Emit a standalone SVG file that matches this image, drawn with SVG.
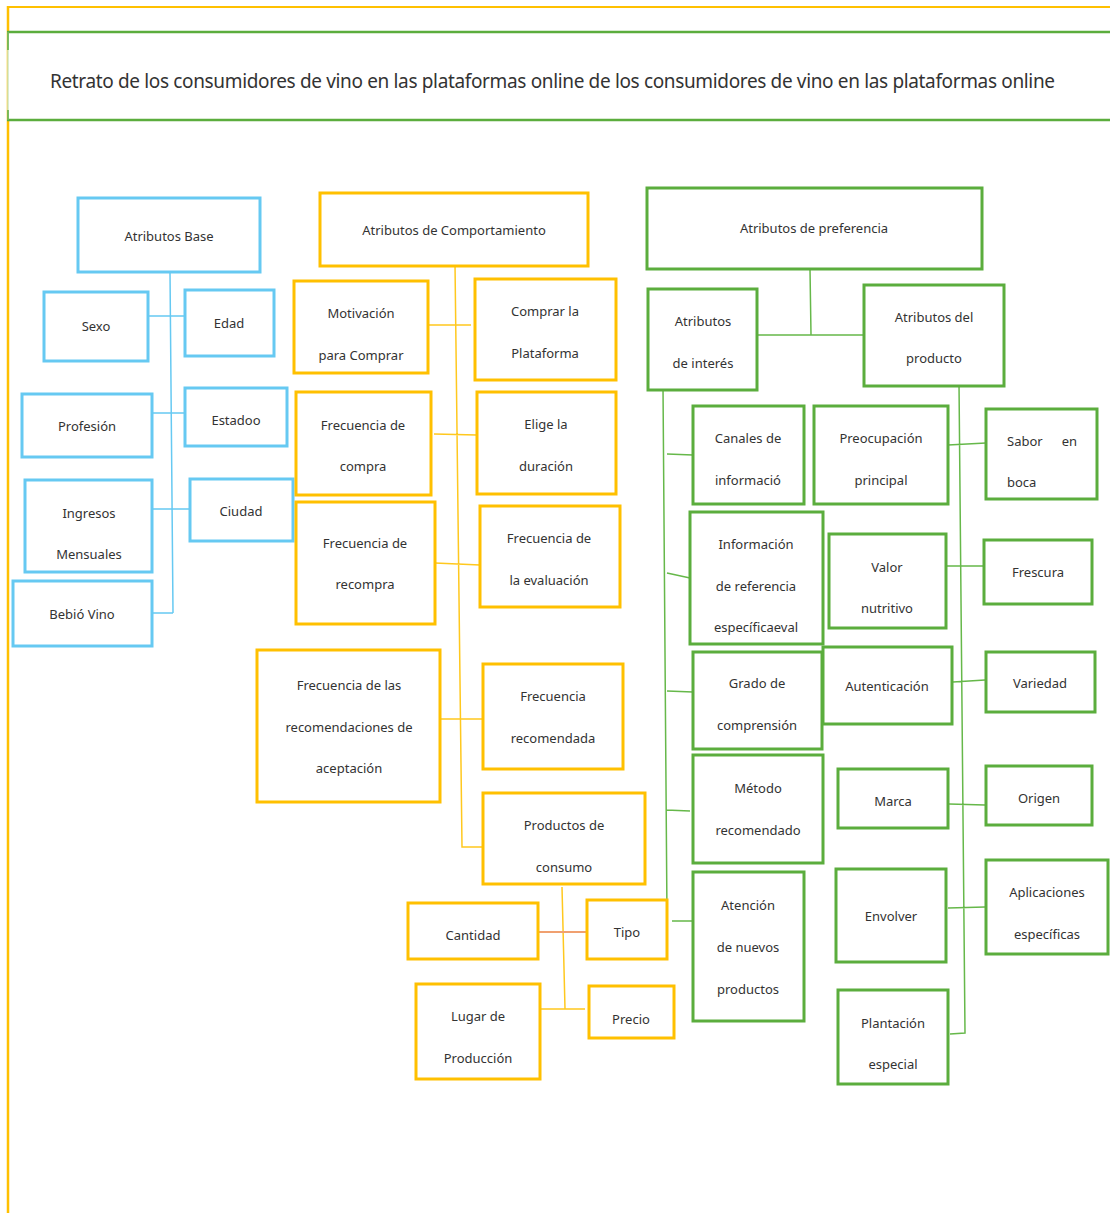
<svg xmlns="http://www.w3.org/2000/svg" width="1110" height="1213" viewBox="0 0 1110 1213">
<style>
.nb{fill:#fff;stroke:#66C9F2;stroke-width:3}
.ny{fill:#fff;stroke:#FFC000;stroke-width:3}
.ng{fill:#fff;stroke:#5BAD3D;stroke-width:3}
.t{font-family:"Noto Sans","Liberation Sans",sans-serif;font-size:13px;fill:#333;text-anchor:middle}
.tl{text-anchor:start}
.te{text-anchor:end}
.cb{fill:none;stroke:#66C9F2;stroke-width:1.5}
.cy{fill:none;stroke:#FFC81E;stroke-width:1.5}
.cg{fill:none;stroke:#66B84A;stroke-width:1.5}
.co{fill:none;stroke:#F0A070;stroke-width:2}
</style>
<rect width="1110" height="1213" fill="#fff"/>
<g id="frame">
<line x1="8" y1="7" x2="1110" y2="7" stroke="#FFC000" stroke-width="2"/>
<line x1="8" y1="6" x2="8" y2="1213" stroke="#FFC000" stroke-width="2.5"/>
</g>
<g id="title">
<rect x="8" y="32" width="1110" height="88" fill="#fff" stroke="none"/>
<line x1="7" y1="32" x2="1110" y2="32" stroke="#5BAD3D" stroke-width="2.5"/>
<line x1="7" y1="120" x2="1110" y2="120" stroke="#5BAD3D" stroke-width="2.5"/>
<line x1="8" y1="32" x2="8" y2="120" stroke="#CFE6C2" stroke-width="1.5"/>
<line x1="8" y1="32" x2="8" y2="50" stroke="#5BAD3D" stroke-width="1.5"/>
<line x1="8" y1="110" x2="8" y2="120" stroke="#5BAD3D" stroke-width="1.5"/>
<text x="50" y="88" class="t tl" style="font-size:19px" textLength="1005">Retrato de los consumidores de vino en las plataformas online de los consumidores de vino en las plataformas online</text>
</g>
<g id="connectors">
<path class="cb" d="M170 272 L173 613 M148 316 H185 M152 413 H185 M152 509 H190 M152 613 H173"/>
<path class="cy" d="M455 264 L462 847 H483 M428 325 H471 M434 434 L477 435 M435 563 L480 565 M440 719 H483 M562 887 L565 1009 M540 1009 H585"/>
<path class="co" d="M538 932 H587"/>
<path class="cg" d="M810 269 L811 335 M757 335 H864 M663 387 L667 918 M667 454 L693 455 M667 573 L690 578 M667 691 L693 692 M666 810 L690 811 M672 921 H693 M959 383 L965 1033 L950 1034 M948 445 L986 443 M946 566 H984 M953 682 L985 680 M949 804 L985 805 M948 908 L985 907"/>
</g>
<g id="n-atributos-base"><rect class="nb" x="78" y="198" width="182" height="74"/><text class="t" x="169" y="240.5">Atributos Base</text></g>
<g id="n-sexo"><rect class="nb" x="44" y="292" width="104" height="69"/><text class="t" x="96" y="330.5">Sexo</text></g>
<g id="n-edad"><rect class="nb" x="185" y="290" width="89" height="66"/><text class="t" x="229" y="327.5">Edad</text></g>
<g id="n-profesion"><rect class="nb" x="22" y="394" width="130" height="63"/><text class="t" x="87" y="430.5">Profesión</text></g>
<g id="n-estadoo"><rect class="nb" x="185" y="388" width="102" height="58"/><text class="t" x="236" y="424.5">Estadoo</text></g>
<g id="n-ingresos"><rect class="nb" x="25" y="480" width="127" height="92"/><text class="t" x="89" y="517.5">Ingresos</text><text class="t" x="89" y="558.5">Mensuales</text></g>
<g id="n-ciudad"><rect class="nb" x="190" y="479" width="103" height="62"/><text class="t" x="241" y="515.5">Ciudad</text></g>
<g id="n-bebio"><rect class="nb" x="13" y="581" width="139" height="65"/><text class="t" x="82" y="618.5">Bebió Vino</text></g>

<g id="n-comportamiento"><rect class="ny" x="320" y="193" width="268" height="73"/><text class="t" x="454" y="234.5">Atributos de Comportamiento</text></g>
<g id="n-motivacion"><rect class="ny" x="294" y="281" width="134" height="92"/><text class="t" x="361" y="317.5">Motivación</text><text class="t" x="361" y="359.5">para Comprar</text></g>
<g id="n-comprar"><rect class="ny" x="475" y="279" width="141" height="101"/><text class="t" x="545" y="315.5">Comprar la</text><text class="t" x="545" y="357.5">Plataforma</text></g>
<g id="n-frec-compra"><rect class="ny" x="296" y="392" width="135" height="103"/><text class="t" x="363" y="429.5">Frecuencia de</text><text class="t" x="363" y="470.5">compra</text></g>
<g id="n-elige"><rect class="ny" x="477" y="392" width="139" height="102"/><text class="t" x="546" y="428.5">Elige la</text><text class="t" x="546" y="470.5">duración</text></g>
<g id="n-frec-recompra"><rect class="ny" x="296" y="502" width="139" height="122"/><text class="t" x="365" y="547.5">Frecuencia de</text><text class="t" x="365" y="588.5">recompra</text></g>
<g id="n-frec-eval"><rect class="ny" x="480" y="506" width="140" height="101"/><text class="t" x="549" y="542.5">Frecuencia de</text><text class="t" x="549" y="584.5">la evaluación</text></g>
<g id="n-frec-recom-acept"><rect class="ny" x="257" y="650" width="183" height="152"/><text class="t" x="349" y="689.5">Frecuencia de las</text><text class="t" x="349" y="731.5">recomendaciones de</text><text class="t" x="349" y="772.5">aceptación</text></g>
<g id="n-frec-recomendada"><rect class="ny" x="483" y="664" width="140" height="105"/><text class="t" x="553" y="700.5">Frecuencia</text><text class="t" x="553" y="742.5">recomendada</text></g>
<g id="n-productos"><rect class="ny" x="483" y="793" width="162" height="91"/><text class="t" x="564" y="829.5">Productos de</text><text class="t" x="564" y="871.5">consumo</text></g>
<g id="n-cantidad"><rect class="ny" x="408" y="903" width="130" height="56"/><text class="t" x="473" y="939.5">Cantidad</text></g>
<g id="n-tipo"><rect class="ny" x="587" y="900" width="80" height="59"/><text class="t" x="627" y="936.5">Tipo</text></g>
<g id="n-lugar"><rect class="ny" x="416" y="984" width="124" height="95"/><text class="t" x="478" y="1020.5">Lugar de</text><text class="t" x="478" y="1062.5">Producción</text></g>
<g id="n-precio"><rect class="ny" x="589" y="986" width="85" height="52"/><text class="t" x="631" y="1023.5">Precio</text></g>

<g id="n-preferencia"><rect class="ng" x="647" y="188" width="335" height="81"/><text class="t" x="814" y="232.5">Atributos de preferencia</text></g>
<g id="n-interes"><rect class="ng" x="648" y="289" width="109" height="101"/><text class="t" x="703" y="325.5">Atributos</text><text class="t" x="703" y="367.5">de interés</text></g>
<g id="n-producto"><rect class="ng" x="864" y="285" width="140" height="101"/><text class="t" x="934" y="321.5">Atributos del</text><text class="t" x="934" y="362.5">producto</text></g>
<g id="n-canales"><rect class="ng" x="693" y="406" width="111" height="98"/><text class="t" x="748" y="442.5">Canales de</text><text class="t" x="748" y="484.5">informació</text></g>
<g id="n-preocupacion"><rect class="ng" x="814" y="406" width="134" height="98"/><text class="t" x="881" y="442.5">Preocupación</text><text class="t" x="881" y="484.5">principal</text></g>
<g id="n-sabor"><rect class="ng" x="986" y="409" width="111" height="90"/><text class="t tl" x="1007" y="445.5">Sabor</text><text class="t te" x="1077" y="445.5">en</text><text class="t tl" x="1007" y="486.5">boca</text></g>
<g id="n-informacion"><rect class="ng" x="690" y="512" width="133" height="132"/><text class="t" x="756" y="548.5">Información</text><text class="t" x="756" y="590.5">de referencia</text><text class="t" x="756" y="631.5">específicaeval</text></g>
<g id="n-valor"><rect class="ng" x="829" y="534" width="117" height="94"/><text class="t" x="887" y="571.5">Valor</text><text class="t" x="887" y="612.5">nutritivo</text></g>
<g id="n-frescura"><rect class="ng" x="984" y="540" width="108" height="64"/><text class="t" x="1038" y="576.5">Frescura</text></g>
<g id="n-grado"><rect class="ng" x="693" y="652" width="129" height="97"/><text class="t" x="757" y="687.5">Grado de</text><text class="t" x="757" y="729.5">comprensión</text></g>
<g id="n-autenticacion"><rect class="ng" x="823" y="647" width="129" height="77"/><text class="t" x="887" y="690.5">Autenticación</text></g>
<g id="n-variedad"><rect class="ng" x="986" y="652" width="109" height="60"/><text class="t" x="1040" y="687.5">Variedad</text></g>
<g id="n-metodo"><rect class="ng" x="693" y="755" width="130" height="108"/><text class="t" x="758" y="792.5">Método</text><text class="t" x="758" y="834.5">recomendado</text></g>
<g id="n-marca"><rect class="ng" x="838" y="769" width="110" height="59"/><text class="t" x="893" y="805.5">Marca</text></g>
<g id="n-origen"><rect class="ng" x="986" y="766" width="106" height="59"/><text class="t" x="1039" y="802.5">Origen</text></g>
<g id="n-atencion"><rect class="ng" x="693" y="872" width="111" height="149"/><text class="t" x="748" y="909.5">Atención</text><text class="t" x="748" y="951.5">de nuevos</text><text class="t" x="748" y="993.5">productos</text></g>
<g id="n-envolver"><rect class="ng" x="836" y="869" width="110" height="93"/><text class="t" x="891" y="920.5">Envolver</text></g>
<g id="n-aplicaciones"><rect class="ng" x="986" y="860" width="122" height="94"/><text class="t" x="1047" y="896.5">Aplicaciones</text><text class="t" x="1047" y="938.5">específicas</text></g>
<g id="n-plantacion"><rect class="ng" x="838" y="990" width="110" height="94"/><text class="t" x="893" y="1027.5">Plantación</text><text class="t" x="893" y="1068.5">especial</text></g>
</svg>
